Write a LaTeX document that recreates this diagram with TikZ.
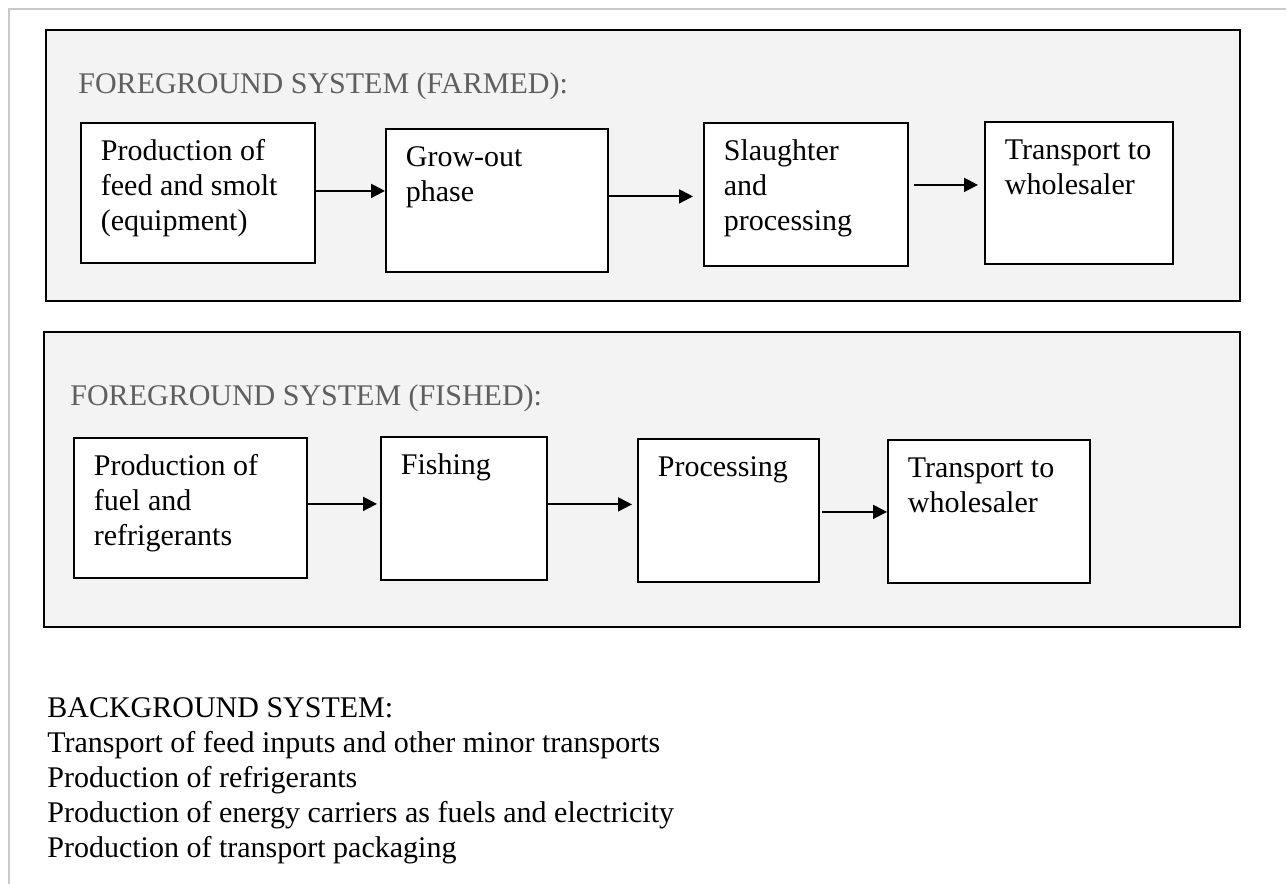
\documentclass[tikz,border=0pt]{standalone}
\usepackage{fontspec}
\setmainfont{Liberation Serif}
\usepackage{tikz}
\usetikzlibrary{arrows.meta}
\definecolor{panelgray}{RGB}{243,243,243}
\definecolor{titlegray}{RGB}{95,95,95}
\definecolor{framegray}{RGB}{200,200,200}
\newcommand{\boxfont}{\fontsize{15pt}{17.5pt}\selectfont}
\newcommand{\stagetext}[3]{\parbox[c][#2][t]{#1}{\raggedright\strut #3}}

\begin{document}
\begin{tikzpicture}[x=0.5pt, y=-0.5pt, >={Triangle[length=7pt,width=7pt]}, font=\boxfont,
		panel/.style={draw=black, fill=panelgray, line width=1pt},
		stage/.style={draw=black, fill=white, line width=0.9pt, anchor=north west, inner xsep=10pt, inner ysep=6.75pt},
		flow/.style={->, line width=1pt},
		title/.style={anchor=base west, inner sep=0pt, text=titlegray},
		listline/.style={anchor=base west, inner sep=0pt}]
			\useasboundingbox (0,0) rectangle (1286,884);
			% Rahmen
			\draw[framegray, line width=1pt] (9,884) -- (9,9) -- (1286,9);
			% Panels
			\draw[panel] (46,30) rectangle (1240,301);
			\draw[panel] (44,332) rectangle (1240,627);
			% Farmed
			\node[title] (farmed) at (78,93) {FOREGROUND SYSTEM (FARMED):};
			\node[stage] (f1) at (80,122) {\stagetext{97pt}{56.5pt}{Production of\\feed and smolt\\(equipment)}};
			\node[stage] (f2) at (385,128) {\stagetext{91pt}{58pt}{Grow-out\\phase}};
			\node[stage] (f3) at (703,122) {\stagetext{82pt}{58pt}{Slaughter\\and\\processing}};
			\node[stage] (f4) at (984,121) {\stagetext{74pt}{57.5pt}{Transport to\\wholesaler}};
			\draw[flow] ([yshift=1pt]f1.east) -- ([yshift=1pt]f1.east -| f2.west);
			\draw[flow] ([yshift=2pt]f2.east) -- ([yshift=2pt,xshift=-5pt]f2.east -| f3.west);
			\draw[flow] ([yshift=4.75pt,xshift=2.5pt]f3.east) -- ([yshift=4.75pt,xshift=-3pt]f3.east -| f4.west);
			% Fished
			\node[title] (fished) at (70,405) {FOREGROUND SYSTEM (FISHED):};
			\node[stage] (b1) at (73,437) {\stagetext{96.5pt}{56.5pt}{Production of\\fuel and\\refrigerants}};
			\node[stage] (b2) at (380,436) {\stagetext{63pt}{58pt}{Fishing}};
			\node[stage] (b3) at (637,438) {\stagetext{70.5pt}{58pt}{Processing}};
			\node[stage] (b4) at (887,439) {\stagetext{81pt}{58pt}{Transport to\\wholesaler}};
			\draw[flow] ([yshift=2pt]b1.east) -- ([yshift=2pt,xshift=-1.5pt]b1.east -| b2.west);
			\draw[flow] ([yshift=2pt]b2.east) -- ([yshift=2pt,xshift=-2.5pt]b2.east -| b3.west);
			\draw[flow] ([yshift=-0.75pt,xshift=1pt]b3.east) -- ([yshift=-0.75pt]b3.east -| b4.west);
			% Background
			\foreach \t [count=\i from 0] in {BACKGROUND SYSTEM:, Transport of feed inputs and other minor transports, Production of refrigerants, Production of energy carriers as fuels and electricity, Production of transport packaging}
				\node[listline] (bg\i) at (47,717+35*\i) {\t};
\end{tikzpicture}
\end{document}
